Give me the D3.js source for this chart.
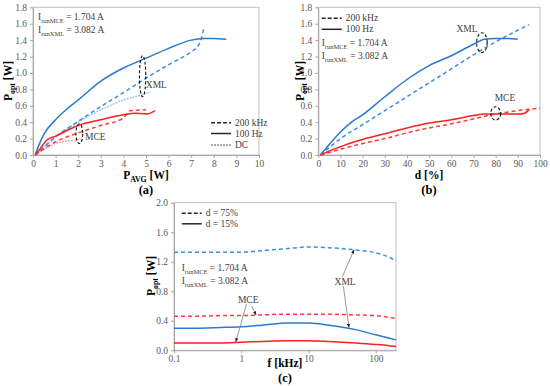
<!DOCTYPE html>
<html>
<head>
<meta charset="utf-8">
<script src="https://cdn.jsdelivr.net/npm/d3@7"></script>
<style>
  body { margin: 0; background: #fff; }
  svg text { font-family: "Liberation Serif", "Times New Roman", Times, serif !important; }
  .axis text { fill: #595959; font-size: 9.5px; }
  .axis path, .axis line { stroke: #a6a6a6; }
  .note { font-size: 9.5px; fill: #404040; }
  .lab { font-size: 11.5px; font-weight: bold; fill: #000; }
</style>
</head>
<body>
<script>
// ---- panel (a): Popt vs P_AVG [W] ----
let aXml100Hz = [[0.1, 0], [0.2, 0.08], [0.5, 0.26], [1, 0.43], [1.5, 0.56], [2, 0.67], [3, 0.9], [4, 1.06],
    [5, 1.18], [6, 1.3], [7, 1.4], [7.5, 1.42], [8, 1.42], [8.55, 1.41]];
let aXml200kHz = [[0.1, 0], [0.5, 0.1], [1, 0.22], [2, 0.41], [3, 0.59], [4, 0.76], [4.9, 0.92], [6, 1.1],
    [7, 1.26], [7.3, 1.33], [7.45, 1.42], [7.55, 1.54]];
let aXmlDC = [[0.1, 0], [0.5, 0.1], [1, 0.22], [2, 0.4], [3, 0.55], [4, 0.67], [5, 0.75], [5.2, 0.77]];
let aMce100Hz = [[0.1, 0], [0.3, 0.07], [0.6, 0.18], [1, 0.23], [2, 0.36], [3, 0.43], [4, 0.49], [4.5, 0.51],
    [5, 0.5], [5.2, 0.51], [5.4, 0.54]];
let aMce200kHz = [[0.1, 0], [0.5, 0.08], [1, 0.16], [2, 0.27], [3, 0.36], [4, 0.45], [4.15, 0.5], [4.3, 0.54], [5, 0.55]];
let aMceDC = [[0.1, 0], [0.5, 0.07], [1, 0.14], [1.5, 0.17], [2, 0.19], [2.1, 0.2]];

// ---- panel (b): Popt vs duty cycle d [%] ----
let bXml100Hz = [[1, 0], [5, 0.13], [10, 0.28], [15, 0.4], [20, 0.49], [30, 0.71], [40, 0.92], [45, 1.01],
    [50, 1.09], [60, 1.21], [70, 1.35], [75, 1.41], [80, 1.42], [85, 1.42], [90, 1.41]];
let bXml200kHz = [[1, 0], [10, 0.2], [20, 0.37], [30, 0.54], [40, 0.71], [50, 0.88], [60, 1.05], [70, 1.22],
    [80, 1.38], [90, 1.52], [95, 1.59]];
let bMce100Hz = [[1, 0], [5, 0.05], [10, 0.1], [15, 0.15], [20, 0.19], [30, 0.26], [40, 0.33], [50, 0.39],
    [60, 0.43], [70, 0.48], [75, 0.5], [80, 0.5], [90, 0.5], [93, 0.51], [95, 0.55]];
let bMce200kHz = [[1, 0], [10, 0.07], [20, 0.14], [30, 0.2], [40, 0.27], [50, 0.33], [60, 0.38], [70, 0.44],
    [80, 0.5], [90, 0.54], [100, 0.57]];

// ---- panel (c): Popt vs frequency f [kHz] ----
let cFreq = [0.1, 0.2, 0.5, 1, 2, 5, 10, 20, 50, 100, 150, 200];
let cXml75 = [1.33, 1.33, 1.33, 1.33, 1.35, 1.38, 1.40, 1.39, 1.36, 1.32, 1.27, 1.21];
let cMce75 = [0.46, 0.46, 0.47, 0.47, 0.48, 0.49, 0.49, 0.49, 0.48, 0.47, 0.45, 0.43];
let cXml15 = [0.30, 0.30, 0.31, 0.32, 0.34, 0.37, 0.37, 0.34, 0.28, 0.21, 0.17, 0.14];
let cMce15 = [0.10, 0.10, 0.10, 0.11, 0.12, 0.13, 0.13, 0.12, 0.10, 0.08, 0.065, 0.05];

let yTicksAB = [0, 0.2, 0.4, 0.6, 0.8, 1.0, 1.2, 1.4, 1.6, 1.8];
let yTicksC = [0, 0.4, 0.8, 1.2, 1.6, 2.0];
let xTicksC = [0.1, 1, 10, 100];

let blue = "#2a7bd0", blueDash = "#3b8fe2", blueLight = "#8ec1ee";
let red = "#ff1f1f", redDash = "#ff3a3a", redLight = "#ff9a9a";
let serif = '"Liberation Serif", "Times New Roman", Times, serif';

let svg = d3.select("body").append("svg")
    .attr("width", 550)
    .attr("height", 386)
    .attr("font-family", serif)
    .style("background", "#fff");

let defs = svg.append("defs");
defs.append("marker")
    .attr("id", "arr")
    .attr("viewBox", "0 0 10 10")
    .attr("refX", 9).attr("refY", 5)
    .attr("markerWidth", 5).attr("markerHeight", 5)
    .attr("orient", "auto")
    .append("path")
    .attr("d", "M0,1 L10,5 L0,9 Z")
    .attr("fill", "#222");

// builds frame + axes for one panel, returns its group
function panel(x, y, xTicks, yTicks, xFmt) {
    let g = svg.append("g");
    let [x0, x1] = x.range(), [y0, y1] = y.range();
    g.append("rect")
        .attr("x", x0).attr("y", y1)
        .attr("width", x1 - x0).attr("height", y0 - y1)
        .attr("fill", "none")
        .attr("stroke", "#bfbfbf");
    g.append("g")
        .attr("class", "axis")
        .attr("transform", "translate(0," + y0 + ")")
        .call(d3.axisBottom(x).tickValues(xTicks).tickFormat(xFmt).tickSize(3).tickSizeOuter(0).tickPadding(2))
        .attr("font-family", serif);
    g.append("g")
        .attr("class", "axis")
        .attr("transform", "translate(" + x0 + ",0)")
        .call(d3.axisLeft(y).tickValues(yTicks).tickFormat(d3.format(".1f")).tickSize(3).tickSizeOuter(0).tickPadding(3))
        .attr("font-family", serif);
    return g;
}

function curve(g, x, y, data, color, dash, width) {
    g.append("path")
        .datum(data)
        .attr("fill", "none")
        .attr("stroke", color)
        .attr("stroke-width", width || 1.5)
        .attr("stroke-dasharray", dash || null)
        .attr("d", d3.line()
            .x(function(d) { return x(d[0]); })
            .y(function(d) { return y(d[1]); })
            .curve(d3.curveMonotoneX));
}

// text with a subscript: main + sub + rest
function subText(g, px, py, main, sub, rest, cls, anchor) {
    let t = g.append("text")
        .attr("class", cls)
        .attr("x", px).attr("y", py)
        .attr("text-anchor", anchor || "start");
    t.append("tspan").text(main);
    t.append("tspan").attr("dy", 2.5).style("font-size", "0.68em").text(sub);
    t.append("tspan").attr("dy", -2.5).text(rest);
    return t;
}

function ellipse(g, x, y, cx, cy, rx, ry) {
    g.append("ellipse")
        .attr("cx", x(cx)).attr("cy", y(cy))
        .attr("rx", Math.abs(x(cx + rx) - x(cx)))
        .attr("ry", Math.abs(y(cy + ry) - y(cy)))
        .attr("fill", "none")
        .attr("stroke", "#111")
        .attr("stroke-width", 1.1)
        .attr("stroke-dasharray", "3,2");
}

function legendRow(g, px, py, dash, label, color) {
    g.append("line")
        .attr("x1", px).attr("x2", px + 20)
        .attr("y1", py).attr("y2", py)
        .attr("stroke", color || "#262626")
        .attr("stroke-width", 1.5)
        .attr("stroke-dasharray", dash);
    g.append("text")
        .attr("class", "note")
        .attr("x", px + 24).attr("y", py + 3)
        .text(label);
}

function currents(g, px, py) {
    subText(g, px, py, "I", "runMCE", " = 1.704 A", "note");
    subText(g, px, py + 13, "I", "runXML", " = 3.082 A", "note");
}

// ===== (a) =====
let xa = d3.scaleLinear().domain([0, 10]).range([33, 259]);
let ya = d3.scaleLinear().domain([0, 1.8]).range([155, 7.3]);
let ga = panel(xa, ya, d3.range(0, 11), yTicksAB, d3.format("d"));
curve(ga, xa, ya, aXmlDC, blueLight, "2,1", 1.3);
curve(ga, xa, ya, aMceDC, redLight, "2,1", 1.3);
curve(ga, xa, ya, aXml200kHz, blueDash, "4,3");
curve(ga, xa, ya, aMce200kHz, redDash, "4,3");
curve(ga, xa, ya, aXml100Hz, blue);
curve(ga, xa, ya, aMce100Hz, red);
ellipse(ga, xa, ya, 4.85, 0.96, 0.14, 0.25);
ellipse(ga, xa, ya, 2.05, 0.26, 0.15, 0.12);
ga.append("text").attr("class", "note").attr("x", xa(4.99)).attr("y", ya(0.85) + 3).text("XML");
ga.append("text").attr("class", "note").attr("x", xa(2.3)).attr("y", ya(0.22) + 3).text("MCE");
currents(ga, 38, 20);
legendRow(ga, 211, 122.7, "4,2", "200 kHz");
legendRow(ga, 211, 133.5, null, "100 Hz");
legendRow(ga, 211, 145, "2,1", "DC", "#8c8c8c");
subText(ga, 146, 179, "P", "AVG", " [W]", "lab", "middle");
ga.append("text").attr("class", "lab").attr("x", 146).attr("y", 194)
    .attr("text-anchor", "middle").style("font-size", "12.5px").text("(a)");
subText(ga.append("g").attr("transform", "translate(12,81) rotate(-90)"), 0, 0, "P", "opt", " [W]", "lab", "middle");

// ===== (b) =====
let xb = d3.scaleLinear().domain([0, 100]).range([318.3, 540]);
let yb = d3.scaleLinear().domain([0, 1.8]).range([155, 7.3]);
let gb = panel(xb, yb, d3.range(0, 101, 10), yTicksAB, d3.format("d"));
curve(gb, xb, yb, bXml200kHz, blueDash, "4,3");
curve(gb, xb, yb, bMce200kHz, redDash, "4,3");
curve(gb, xb, yb, bXml100Hz, blue);
curve(gb, xb, yb, bMce100Hz, red);
ellipse(gb, xb, yb, 73.8, 1.37, 2.4, 0.12);
ellipse(gb, xb, yb, 80, 0.507, 2.25, 0.081);
gb.append("text").attr("class", "note").attr("x", xb(67.1)).attr("y", yb(1.53) + 3)
    .attr("text-anchor", "middle").text("XML");
gb.append("text").attr("class", "note").attr("x", xb(84.2)).attr("y", yb(0.7) + 3)
    .attr("text-anchor", "middle").text("MCE");
legendRow(gb, 321.7, 18.3, "4,2", "200 kHz");
legendRow(gb, 321.7, 29.3, null, "100 Hz");
currents(gb, 321.7, 46);
gb.append("text").attr("class", "lab").attr("x", 429).attr("y", 179)
    .attr("text-anchor", "middle").text("d [%]");
gb.append("text").attr("class", "lab").attr("x", 429).attr("y", 194)
    .attr("text-anchor", "middle").style("font-size", "12.5px").text("(b)");
subText(gb.append("g").attr("transform", "translate(304,81) rotate(-90)"), 0, 0, "P", "opt", " [W]", "lab", "middle");

// ===== (c) =====
let xc = d3.scaleLog().domain([0.1, 200]).range([174, 396]);
let yc = d3.scaleLinear().domain([0, 2]).range([350.3, 202.7]);
let gc = panel(xc, yc, xTicksC, yTicksC, function(d) { return String(d); });
let zipF = function(vals) { return cFreq.map(function(f, i) { return [f, vals[i]]; }); };
curve(gc, xc, yc, zipF(cXml75), blueDash, "4,3");
curve(gc, xc, yc, zipF(cMce75), redDash, "4,3");
curve(gc, xc, yc, zipF(cXml15), blue);
curve(gc, xc, yc, zipF(cMce15), red);
legendRow(gc, 181.7, 213.3, "4,2", "d = 75%");
legendRow(gc, 181.7, 223.8, null, "d = 15%");
currents(gc, 181.7, 271);

// annotation arrows [fromF, fromY, toF, toY]
let cArrows = [[1.2, 0.63, 0.83, 0.116], [1.43, 0.6, 1.66, 0.48], [32, 1.0, 47.5, 1.36], [33, 0.87, 40, 0.31]];
cArrows.forEach(function(a) {
    gc.append("line")
        .attr("x1", xc(a[0])).attr("y1", yc(a[1]))
        .attr("x2", xc(a[2])).attr("y2", yc(a[3]))
        .attr("stroke", "#7f7f7f")
        .attr("stroke-width", 0.8)
        .attr("marker-end", "url(#arr)");
});
gc.append("text").attr("class", "note").attr("x", xc(1.27)).attr("y", yc(0.68) + 3)
    .attr("text-anchor", "middle").text("MCE");
gc.append("text").attr("class", "note").attr("x", xc(35)).attr("y", yc(0.93) + 3)
    .attr("text-anchor", "middle").text("XML");
gc.append("text").attr("class", "lab").attr("x", 285).attr("y", 367)
    .attr("text-anchor", "middle").text("f [kHz]");
gc.append("text").attr("class", "lab").attr("x", 285).attr("y", 382)
    .attr("text-anchor", "middle").style("font-size", "12.5px").text("(c)");
subText(gc.append("g").attr("transform", "translate(155,276) rotate(-90)"), 0, 0, "P", "opt", " [W]", "lab", "middle");
</script>
</body>
</html>
